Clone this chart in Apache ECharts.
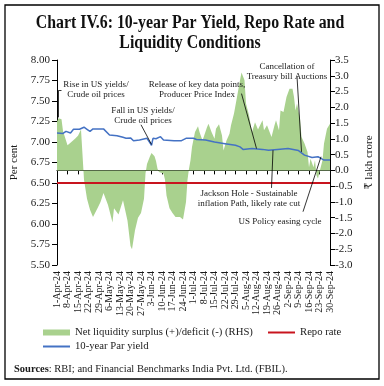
<!DOCTYPE html>
<html><head><meta charset="utf-8">
<script src="https://cdn.jsdelivr.net/npm/echarts@6/dist/echarts.min.js"></script>
<style>html,body{margin:0;padding:0;background:#fff}#c{width:384px;height:386px}</style>
</head><body><div id="c"></div>
<script>
// Daily categories 1-Apr-24 .. 30-Sep-24
const monthsSpec = [['Apr',30],['May',31],['Jun',30],['Jul',31],['Aug',31],['Sep',30]];
const categories = [];
monthsSpec.forEach(([m,n])=>{for(let d=1;d<=n;d++)categories.push(d+'-'+m+'-24');});

// Net liquidity surplus(+)/deficit(-), ₹ lakh crore (RHS)
const liquidityDates = ['1-Apr-24','2-Apr-24','4-Apr-24','5-Apr-24','8-Apr-24','10-Apr-24','13-Apr-24','15-Apr-24','17-Apr-24','18-Apr-24',
'19-Apr-24','21-Apr-24','23-Apr-24','25-Apr-24','26-Apr-24','28-Apr-24','30-Apr-24','2-May-24','3-May-24','5-May-24',
'8-May-24','9-May-24','10-May-24','12-May-24','15-May-24','16-May-24','18-May-24','20-May-24','21-May-24','23-May-24',
'25-May-24','27-May-24','28-May-24','29-May-24','30-May-24','31-May-24','2-Jun-24','3-Jun-24','4-Jun-24','5-Jun-24',
'6-Jun-24','7-Jun-24','8-Jun-24','11-Jun-24','12-Jun-24','13-Jun-24','15-Jun-24','17-Jun-24','19-Jun-24','22-Jun-24',
'24-Jun-24','25-Jun-24','26-Jun-24','27-Jun-24','28-Jun-24','29-Jun-24','30-Jun-24','2-Jul-24','4-Jul-24','5-Jul-24',
'7-Jul-24','10-Jul-24','11-Jul-24','13-Jul-24','15-Jul-24','16-Jul-24','18-Jul-24','20-Jul-24','21-Jul-24','23-Jul-24',
'25-Jul-24','26-Jul-24','28-Jul-24','30-Jul-24','1-Aug-24','2-Aug-24','4-Aug-24','5-Aug-24','7-Aug-24','9-Aug-24',
'11-Aug-24','13-Aug-24','16-Aug-24','17-Aug-24','19-Aug-24','22-Aug-24','24-Aug-24','25-Aug-24','27-Aug-24','28-Aug-24',
'30-Aug-24','1-Sep-24','3-Sep-24','5-Sep-24','6-Sep-24','7-Sep-24','8-Sep-24','10-Sep-24','11-Sep-24','13-Sep-24',
'15-Sep-24','16-Sep-24','17-Sep-24','19-Sep-24','20-Sep-24','21-Sep-24','22-Sep-24','23-Sep-24','25-Sep-24','26-Sep-24',
'28-Sep-24','30-Sep-24'];
const liquidityValues = [1.55,1.65,1.62,1.25,0.8,0.88,1.0,1.1,1.3,1.35,
-0.3,-0.9,-1.25,-1.48,-1.45,-1.2,-1.0,-0.72,-0.7,-1.1,
-1.65,-1.2,-1.25,-1.4,-0.95,-0.92,-1.6,-2.4,-2.5,-1.9,
-1.5,-1.35,-1.3,-0.9,-0.1,0.2,0.45,0.55,0.6,0.45,
0.3,0.05,-0.05,-0.1,-0.3,-0.8,-1.2,-1.35,-1.48,-1.48,
-1.56,-1.5,-1.0,-0.3,0.05,0.32,0.74,1.22,1.4,1.22,
0.95,1.37,1.48,1.22,1.0,1.32,1.46,1.11,0.63,0.95,
1.16,1.43,1.8,2.33,2.86,3.1,2.86,2.12,1.75,1.22,
1.53,1.3,1.59,1.27,1.43,1.06,1.43,1.59,1.27,1.9,
1.85,2.33,2.59,2.59,2.33,1.9,2.12,1.64,1.06,0.85,
0.58,0.1,0.37,0.1,0.32,-0.16,-0.26,-0.05,0.32,0.85,
1.32,1.48];

// 10-year Par yield, per cent
const yieldDates = ['1-Apr-24','5-Apr-24','7-Apr-24','10-Apr-24','12-Apr-24','16-Apr-24','19-Apr-24','21-Apr-24','23-Apr-24','25-Apr-24',
'2-May-24','6-May-24','11-May-24','15-May-24','17-May-24','20-May-24','22-May-24','26-May-24','31-May-24','2-Jun-24',
'3-Jun-24','4-Jun-24','6-Jun-24','9-Jun-24','11-Jun-24','18-Jun-24','23-Jun-24','26-Jun-24','1-Jul-24','3-Jul-24',
'9-Jul-24','15-Jul-24','22-Jul-24','29-Jul-24','1-Aug-24','3-Aug-24','9-Aug-24','16-Aug-24','20-Aug-24','26-Aug-24',
'2-Sep-24','9-Sep-24','13-Sep-24','18-Sep-24','22-Sep-24','24-Sep-24','26-Sep-24','30-Sep-24'];
const yieldValues = [7.11,7.105,7.13,7.11,7.155,7.155,7.18,7.155,7.13,7.16,
7.16,7.085,7.077,7.057,7.045,7.05,7.016,7.025,7.045,6.99,
6.96,7.045,7.04,7.065,7.025,7.016,7.016,7.045,7.045,7.03,
7.025,7.0,6.98,6.96,6.94,6.91,6.92,6.91,6.9,6.91,
6.92,6.895,6.84,6.81,6.82,6.80,6.78,6.78];

// Repo rate, per cent
const repoDates = ['1-Apr-24','30-Sep-24'];
const repoValues = [6.5,6.5];

const leftTicks = {min:5.5, max:8.0, interval:0.25};
const rightTicks = {min:-3.0, max:3.5, interval:0.5};

// Annotation leader lines in data coords [dateLabel, per cent]
const leaderLines = [
  [['2-Apr-24',7.30],['2-Apr-24',7.63]],
  [['2-Apr-24',7.63],['4-Apr-24',7.63]],
  [['27-May-24',7.21],['3-Jun-24',6.97]],
  [['2-Aug-24',7.59],['12-Aug-24',6.92]],
  [['8-Sep-24',7.80],['11-Sep-24',6.88]],
  [['22-Aug-24',6.44],['23-Aug-24',6.90]],
  [['12-Sep-24',6.15],['24-Sep-24',6.82]]
];
const annotations = [
  {text:'Rise in US yields/\nCrude oil prices', x:96, y:80},
  {text:'Fall in US yields/\nCrude oil prices', x:143, y:106},
  {text:'Release of key data points,\nProducer Price Index', x:197, y:80},
  {text:'Cancellation of\nTreasury bill Auctions', x:287, y:62},
  {text:'Jackson Hole - Sustainable\ninflation Path, likely rate cut', x:249, y:189},
  {text:'US Policy easing cycle', x:280, y:217}
];

const FONT = '"Liberation Serif","DejaVu Serif",serif';
const TXT = '#1a1a1a';
const pair = (ds, vs) => ds.map((d,i)=>[d, vs[i]]);

const chart = echarts.init(document.getElementById('c'), null, {renderer:'canvas'});
chart.setOption({
  animation:false,
  backgroundColor:'#fff',
  grid:{left:57, right:54, top:60, bottom:121, containLabel:false},
  xAxis:{type:'category', data:categories, boundaryGap:false,
    axisLine:{lineStyle:{color:'#000', width:1}},
    axisTick:{interval:6, length:4, lineStyle:{color:'#000'}},
    axisLabel:{interval:6, rotate:90, fontFamily:FONT, fontSize:10, color:TXT, margin:6},
    splitLine:{show:false}},
  yAxis:[
    {type:'value', min:leftTicks.min, max:leftTicks.max, interval:leftTicks.interval, position:'left',
     name:'Per cent', nameLocation:'middle', nameGap:29, nameRotate:90,
     nameTextStyle:{fontFamily:FONT, fontSize:11, color:TXT},
     axisLine:{show:true, lineStyle:{color:'#000'}}, axisTick:{show:true, length:5, lineStyle:{color:'#000'}},
     axisLabel:{fontFamily:FONT, fontSize:11, color:TXT, margin:7, formatter:v=>v.toFixed(2)},
     splitLine:{show:false}},
    {type:'value', min:rightTicks.min, max:rightTicks.max, interval:rightTicks.interval, position:'right',
     name:'₹ lakh crore', nameLocation:'middle', nameGap:28, nameRotate:90,
     nameTextStyle:{fontFamily:FONT, fontSize:11, color:TXT},
     axisLine:{show:true, lineStyle:{color:'#000'}}, axisTick:{show:true, length:5, lineStyle:{color:'#000'}},
     axisLabel:{fontFamily:FONT, fontSize:11, color:TXT, margin:5, formatter:v=>v.toFixed(1)},
     splitLine:{show:false}}
  ],
  legend:[
    {data:['Net liquidity surplus (+)/deficit (-) (RHS)'], left:43, top:327, padding:0, icon:'rect', itemWidth:27, itemHeight:6, itemGap:4,
     textStyle:{fontFamily:FONT, fontSize:10.7, color:TXT}},
    {data:['Repo rate'], left:268, top:327, padding:0, icon:'rect', itemWidth:27, itemHeight:2, textStyle:{fontFamily:FONT, fontSize:10.7, color:TXT}},
    {data:['10-year Par yield'], left:43, top:341, padding:0, icon:'rect', itemWidth:27, itemHeight:2, textStyle:{fontFamily:FONT, fontSize:10.7, color:TXT}}
  ],
  series:[
    {name:'Net liquidity surplus (+)/deficit (-) (RHS)', type:'line', yAxisIndex:1, data:pair(liquidityDates, liquidityValues),
     symbol:'none', lineStyle:{width:0}, itemStyle:{color:'#a9d18e'}, areaStyle:{color:'#a9d18e', opacity:1}, z:1},
    {name:'Repo rate', type:'line', yAxisIndex:0, data:pair(repoDates, repoValues), symbol:'none',
     lineStyle:{color:'#c8141e', width:2}, itemStyle:{color:'#c8141e'}, z:3},
    {name:'10-year Par yield', type:'line', yAxisIndex:0, data:pair(yieldDates, yieldValues), symbol:'none',
     lineStyle:{color:'#4472c4', width:1.5}, itemStyle:{color:'#4472c4'}, z:4,
     markLine:{silent:true, symbol:['none','none'], label:{show:false}, animation:false,
       lineStyle:{color:'#000', width:0.8, type:'solid'},
       emphasis:{disabled:true},
       data:leaderLines.map(([a,b])=>[{coord:a},{coord:b}])}}
  ],
  graphic:[
    {type:'rect', shape:{x:5, y:5, width:374, height:374}, style:{fill:'none', stroke:'#000', lineWidth:1.3}, z:100},
    {type:'text', x:190, y:13, scaleX:0.88, style:{text:'Chart IV.6: 10-year Par Yield, Repo Rate and\nLiquidity Conditions',
      font:'bold 18px '+FONT, fill:'#111', textAlign:'center', lineHeight:20}},
    ...annotations.map(a=>({type:'text', x:a.x, y:a.y, style:{text:a.text, font:'9px '+FONT, fill:TXT, textAlign:'center', lineHeight:9.5}, z:50})),
    {type:'text', x:14, y:364, style:{text:'{b|Sources}: RBI; and Financial Benchmarks India Pvt. Ltd. (FBIL).',
      font:'10.5px '+FONT, fill:TXT, rich:{b:{fontWeight:'bold', fontFamily:FONT, fontSize:10.5, fill:TXT}}}}
  ]
});
</script></body></html>
